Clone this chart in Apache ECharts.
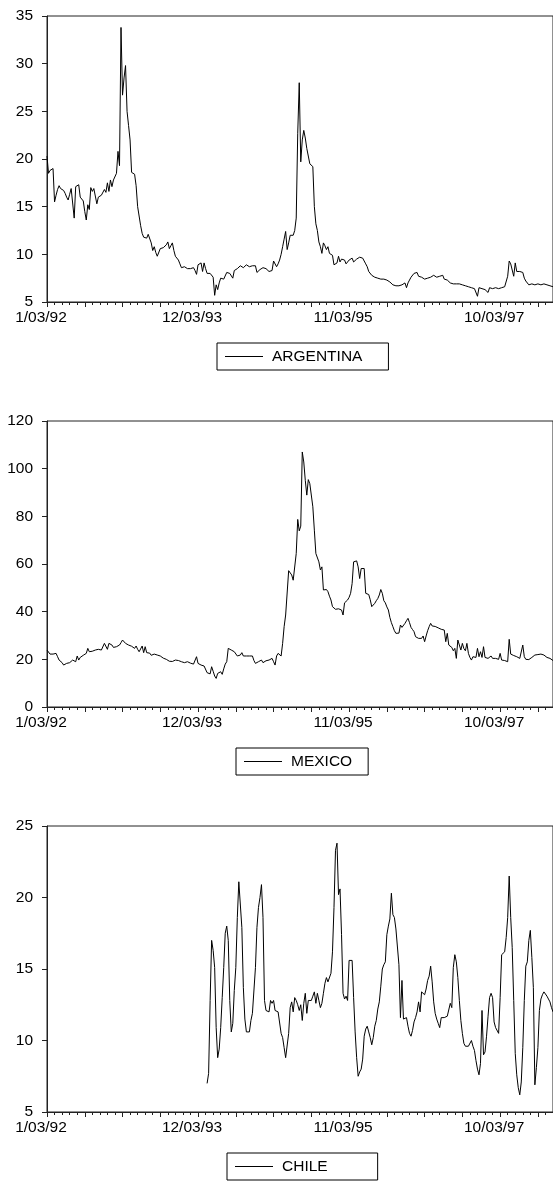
<!DOCTYPE html>
<html>
<head>
<meta charset="utf-8">
<script src="https://cdn.jsdelivr.net/npm/echarts@6/dist/echarts.min.js"></script>
<style>
html, body { margin: 0; padding: 0; background: #fff; }
#chart { width: 553px; height: 1183px; }
</style>
</head>
<body>
<div id="chart"></div>
<script>
// Weekly observations starting on Friday 3 January 1992.
const START_DATE = '1992-01-03';
const WEEK_COUNT = 336;

// Argentina, weekly
const argentina = [
  20.3,18.5,18.8,18.6,19.0,15.5,16.2,16.8,17.2,16.9,
  16.8,16.7,16.4,16.0,15.7,16.3,16.9,17.0,13.8,17.1,
  17.2,17.3,16.0,15.8,15.6,14.5,13.6,15.2,14.7,17.0,
  16.6,16.9,16.7,15.3,16.0,15.8,16.2,16.4,16.8,16.5,
  17.5,16.6,17.8,17.1,17.8,17.8,18.5,20.8,19.3,33.8,
  26.7,28.5,29.8,25.0,23.5,22.0,18.6,18.5,18.4,17.2,
  15.0,14.8,13.0,12.2,11.8,11.6,11.7,12.1,11.9,11.2,
  10.4,10.8,10.2,9.8,10.0,10.6,10.5,10.7,10.9,11.0,
  11.3,10.6,10.9,11.2,10.4,9.8,9.6,9.4,9.0,8.6,
  8.5,8.7,8.6,8.5,8.6,8.5,8.7,8.6,8.3,7.9,
  8.9,9.0,9.1,8.2,9.1,8.5,8.0,8.1,8.0,7.8,
  7.6,5.7,6.8,6.3,7.0,7.5,7.3,7.4,7.5,8.1,
  7.9,8.0,8.2,7.5,8.3,8.3,8.5,8.7,8.8,8.7,
  8.6,8.7,8.9,8.8,8.7,8.6,8.8,8.8,8.8,8.1,
  8.3,8.4,8.5,8.6,8.5,8.5,8.4,8.2,8.3,8.3,
  9.3,9.1,8.7,9.0,9.4,10.0,10.8,11.6,12.4,10.5,
  11.2,12.0,11.8,12.0,12.5,13.8,22.7,28.0,19.7,22.0,
  23.0,22.2,21.1,21.0,19.5,19.4,19.2,15.0,13.2,12.5,
  11.3,10.8,10.1,11.2,10.9,10.5,10.8,10.1,10.0,9.9,
  8.9,9.0,9.1,9.8,9.2,9.5,9.4,9.4,9.0,9.2,
  9.4,9.5,9.6,9.2,9.4,9.5,9.6,9.7,9.7,9.6,
  9.5,9.0,8.7,8.2,8.0,7.8,7.7,7.6,7.5,7.5,
  7.4,7.4,7.5,7.4,7.3,7.3,7.3,7.1,7.0,6.8,
  6.8,6.7,6.7,6.7,6.7,6.8,6.8,7.0,6.5,7.0,
  7.3,7.6,7.8,8.0,8.2,8.1,7.7,7.5,7.6,7.6,
  7.4,7.5,7.5,7.7,7.6,7.7,7.8,7.8,7.6,7.6,
  7.7,7.8,7.8,7.4,7.4,7.3,7.2,7.0,7.2,6.9,
  6.9,6.9,6.8,6.9,6.9,6.8,6.7,6.7,6.6,6.6,
  6.5,6.5,6.5,6.4,6.4,5.6,6.5,6.4,6.4,6.4,
  6.3,6.2,6.0,6.5,6.4,6.4,6.5,6.5,6.4,6.4,
  6.5,6.5,6.6,6.6,6.8,7.7,9.3,9.0,8.9,7.7,
  9.1,8.2,8.3,8.2,8.2,8.1,7.5,7.2,7.0,6.8,
  6.8,6.9,6.9,6.8,6.8,6.9,6.9,6.8,6.8,6.9,
  6.9,6.8,6.8,6.7,6.6,6.6
];

// Mexico, weekly
const mexico = [
  23.9,23.2,22.2,22.5,22.2,21.7,22.5,21.1,19.7,19.0,
  18.6,17.6,17.9,18.3,17.6,18.6,17.9,19.7,19.2,19.0,
  21.4,19.7,20.8,21.0,21.7,21.4,22.5,24.6,23.2,23.6,
  23.4,24.2,23.9,23.7,24.2,23.9,23.9,24.6,26.7,27.1,
  24.2,26.7,27.3,26.0,25.0,25.2,25.3,25.9,26.0,27.0,
  28.1,27.7,26.7,26.3,26.0,25.3,25.5,25.3,24.6,25.6,
  24.2,23.2,24.0,25.6,22.8,25.3,22.8,23.6,22.6,21.7,
  22.5,22.2,22.0,21.8,21.6,21.4,20.8,20.5,19.7,20.0,
  19.3,19.2,19.0,19.1,19.0,19.7,19.6,19.5,19.4,19.0,
  18.9,18.6,18.8,19.0,18.3,18.4,18.6,18.0,17.6,21.1,
  18.3,17.9,17.6,18.0,17.2,17.4,14.4,14.8,13.9,16.9,
  15.0,13.0,12.0,14.1,14.5,14.8,13.7,16.0,18.0,19.0,
  24.6,25.3,23.9,23.5,23.2,22.5,21.4,21.6,21.8,22.8,
  21.4,21.4,21.4,21.3,21.4,21.4,21.4,19.5,18.3,18.6,
  19.0,19.3,19.7,18.6,19.0,19.4,19.6,19.7,20.0,20.4,
  19.0,17.6,21.4,22.5,22.8,21.4,26.7,33.7,38.6,38.6,
  57.2,57.5,55.4,53.2,53.5,64.4,78.7,73.9,75.9,107.0,
  102.8,95.1,88.9,95.4,93.7,93.4,84.0,74.2,64.4,63.7,
  60.9,57.5,58.8,49.1,48.8,49.3,48.4,46.5,44.9,42.1,
  41.5,41.0,41.4,41.2,41.0,40.7,38.6,43.7,44.5,44.9,
  46.0,47.7,51.8,60.9,61.6,61.3,58.8,53.9,58.1,58.5,
  58.1,47.7,47.0,47.2,45.0,42.1,41.4,43.5,44.6,45.5,
  47.0,49.3,47.7,44.6,43.7,42.0,40.7,37.6,35.4,33.7,
  32.0,30.9,30.1,31.0,34.4,33.4,34.2,35.1,36.2,37.2,
  35.4,33.4,32.5,31.6,29.5,29.1,28.8,28.9,28.8,29.8,
  27.4,29.8,32.0,33.7,35.1,34.0,34.4,33.8,33.4,33.2,
  33.0,32.6,32.5,32.3,27.4,30.9,26.0,26.7,25.0,23.6,
  24.6,20.4,28.1,26.0,23.9,26.7,24.5,23.6,26.7,22.5,
  20.8,19.7,21.1,20.4,20.8,24.6,21.1,23.2,20.8,25.3,
  20.8,20.6,20.4,21.0,21.4,20.4,20.6,20.4,20.3,20.0,
  22.5,19.7,20.0,19.5,19.0,19.0,28.4,22.2,21.8,21.6,
  21.4,21.1,20.8,20.4,20.6,26.0,21.1,20.0,19.7,19.9,
  20.0,20.8,21.2,21.8,21.4,22.0,22.5,22.2,22.0,21.8,
  21.4,20.8,20.4,20.4,19.7,19.5
];

// Chile, weekly; the series begins in mid-January 1994
const chileFirstWeek = '1/14/94';
const chile = [
  7.0,7.7,12.8,17.0,
  16.3,15.1,10.9,8.8,9.4,10.9,13.0,15.1,17.5,18.0,
  17.0,12.8,10.6,11.2,13.5,15.1,18.6,21.1,21.0,17.9,
  13.7,11.5,10.6,10.6,10.6,11.4,11.9,12.0,15.1,17.9,
  19.3,20.0,20.9,18.6,12.8,12.1,12.0,12.0,12.8,12.6,
  12.8,12.1,12.0,12.0,12.0,10.5,10.2,9.5,8.8,8.8,
  10.5,12.3,12.7,12.0,13.0,12.8,12.5,12.1,12.5,11.4,
  12.6,13.3,11.9,12.8,12.7,12.8,13.1,13.4,12.6,13.3,
  12.8,12.3,12.6,13.3,14.0,14.4,14.1,14.2,14.7,16.2,
  19.3,23.3,23.8,20.2,20.6,17.4,13.3,12.9,13.1,12.8,
  15.6,15.6,15.6,13.0,10.6,8.8,7.5,7.8,8.0,8.7,
  10.3,10.8,11.0,10.6,10.2,9.7,10.2,11.0,11.4,12.2,
  12.7,13.8,15.0,15.3,15.5,17.4,18.0,18.5,20.3,18.8,
  18.6,17.8,17.9,15.3,11.6,14.2,11.5,11.4,11.6,11.0,
  10.5,10.3,10.7,11.3,11.6,12.0,12.7,12.0,13.4,13.3,
  13.2,13.6,14.2,14.5,15.2,14.1,12.7,11.9,11.5,11.2,
  10.9,11.6,11.5,11.6,11.7,11.7,11.8,12.6,12.3,15.1,
  16.0,15.5,14.4,12.8,11.4,10.5,9.8,9.6,9.6,9.6,
  9.7,10.0,9.6,9.3,8.6,8.0,7.6,8.4,12.1,9.0,
  9.2,10.3,11.7,13.0,13.3,13.0,11.3,10.9,10.9,10.5,
  13.0,16.0,15.9,16.2,17.2,18.6,21.5,18.6,16.5,12.8,
  9.1,7.6,6.7,6.2,7.1,9.5,12.8,15.2,15.5,17.0,
  17.7,15.8,13.7,6.9,8.1,9.5,12.1,12.9,13.2,13.4,
  13.3,13.1,12.9,12.7,12.3,12.0
];

// Value-axis ranges: [min, max, step]
const argentinaRange = [5, 35, 5];
const mexicoRange = [0, 120, 20];
const chileRange = [5, 25, 5];

// Weekly date labels written as M/DD/YY
function weeklyDates(startIso, n) {
  const out = [];
  const t0 = Date.parse(startIso + 'T00:00:00Z');
  for (let k = 0; k < n; k++) {
    const d = new Date(t0 + k * 7 * 86400000);
    const m = d.getUTCMonth() + 1;
    const day = String(d.getUTCDate()).padStart(2, '0');
    const yy = String(d.getUTCFullYear() % 100).padStart(2, '0');
    out.push(m + '/' + day + '/' + yy);
  }
  return out;
}

const dates = weeklyDates(START_DATE, WEEK_COUNT);
const chileOffset = dates.indexOf(chileFirstWeek);
const chileSeries = dates.map((d, k) => (k < chileOffset ? null : chile[k - chileOffset]));

const FONT = '"Liberation Sans", Arial, Helvetica, sans-serif';
const FS = 15.5;
const INK = '#000';
const FRAME = '#222';

const panels = [
  { name: 'ARGENTINA', values: argentina, range: argentinaRange, top: 16,
    legend: { left: 217, top: 343, padRight: 26 } },
  { name: 'MEXICO', values: mexico, range: mexicoRange, top: 421,
    legend: { left: 236, top: 748, padRight: 16 } },
  { name: 'CHILE', values: chileSeries, range: chileRange, top: 826,
    legend: { left: 227, top: 1153, padRight: 50 } }
];
const PLOT_H = 286;

const option = {
  animation: false,
  backgroundColor: '#fff',
  textStyle: { fontFamily: FONT },
  grid: [], xAxis: [], yAxis: [], series: [], legend: []
};

panels.forEach((p, g) => {
  option.grid.push({
    left: 47, right: -1, top: p.top, height: PLOT_H,
    show: true, borderColor: FRAME, borderWidth: 1, backgroundColor: 'transparent'
  });
  // minor ticks every 5 weeks, date labels every 100 weeks
  option.xAxis.push({
    type: 'category', gridIndex: g, data: dates, boundaryGap: false,
    axisLine: { show: true, lineStyle: { color: FRAME, width: 1 } },
    axisTick: { show: true, interval: 4, length: 3, lineStyle: { color: FRAME, width: 1 } },
    axisLabel: {
      interval: 99, margin: 8, color: INK, fontSize: FS, fontFamily: FONT,
      padding: [0, 12, 0, 0]
    },
    splitLine: { show: false }
  });
  // longer ticks every 25 weeks
  option.xAxis.push({
    type: 'category', gridIndex: g, data: dates, boundaryGap: false, position: 'bottom',
    axisLine: { show: false },
    axisTick: { show: true, interval: 24, length: 5, lineStyle: { color: FRAME, width: 1 } },
    axisLabel: { show: false },
    splitLine: { show: false }
  });
  option.yAxis.push({
    type: 'value', gridIndex: g,
    min: p.range[0], max: p.range[1], interval: p.range[2],
    axisLine: { show: true, lineStyle: { color: FRAME, width: 1 } },
    axisTick: { show: true, length: 5, lineStyle: { color: FRAME, width: 1 } },
    axisLabel: { margin: 14, color: INK, fontSize: FS, fontFamily: FONT },
    splitLine: { show: false }
  });
  option.series.push({
    name: p.name, type: 'line', xAxisIndex: g * 2, yAxisIndex: g,
    data: p.values, symbol: 'none', showSymbol: false, connectNulls: false,
    lineStyle: { color: INK, width: 1 }, itemStyle: { color: INK },
    emphasis: { disabled: true }
  });
  option.legend.push({
    data: [p.name], left: p.legend.left, top: p.legend.top,
    icon: 'rect', itemWidth: 38, itemHeight: 1,
    padding: [5, p.legend.padRight, 5, 8],
    borderColor: INK, borderWidth: 1, borderRadius: 0,
    selectedMode: false,
    textStyle: { color: INK, fontSize: FS, fontFamily: FONT, lineHeight: 17, padding: [0, 0, 0, 4] }
  });
});

const chart = echarts.init(document.getElementById('chart'), null, { renderer: 'canvas' });
chart.setOption(option);
</script>
</body>
</html>
